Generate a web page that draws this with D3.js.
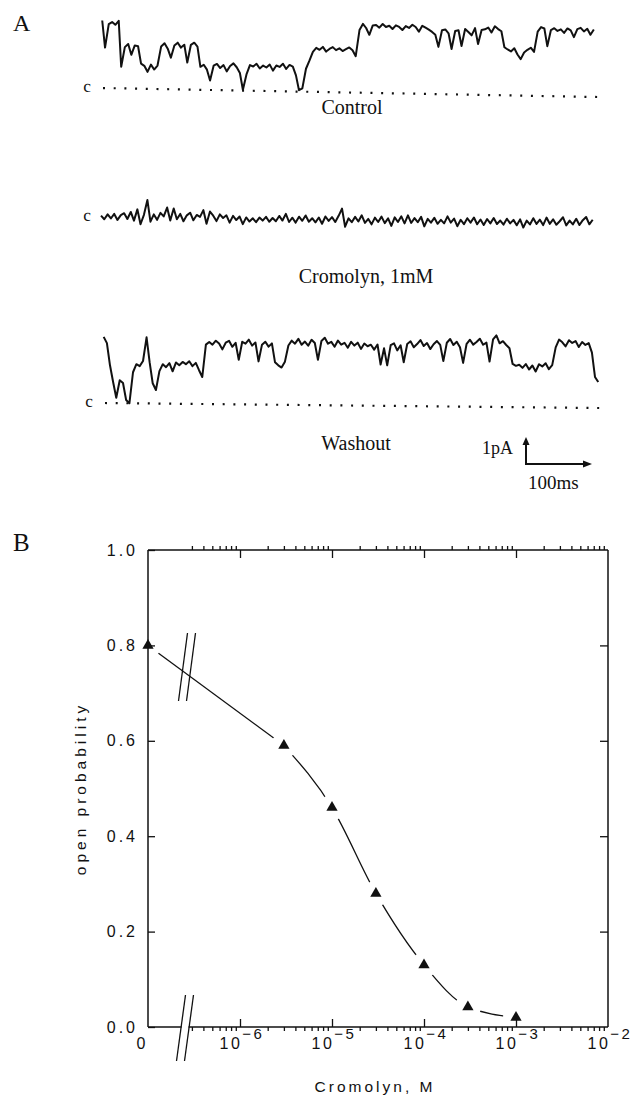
<!DOCTYPE html>
<html>
<head>
<meta charset="utf-8">
<script src="https://cdn.jsdelivr.net/npm/d3@7"></script>
<style>
body { margin: 0; background: #fff; }
svg { display: block; }
</style>
</head>
<body>
<script>
// ---- panel A: single channel records, current in pA sampled every 5 ms ----
var sampleMs = 5;
var traceMs = 750;

var controlTrace = [
    2.5, 1.5, 2.37, 2.45, 2.35, 2.5,
    0.8,
    1.53, 1.65, 1.25, 1.6, 1.57,
    0.93, 0.85, 0.63, 0.9, 0.72, 0.87,
    1.58, 1.7, 1.5, 1.17, 1.62, 1.73, 1.55, 1.66, 1.0, 1.66, 1.74, 1.6,
    0.85, 0.93, 0.75, 0.35, 0.9, 0.97, 0.82, 0.93, 0.7, 0.9, 1.0, 0.86, 0.65,
    0.03,
    0.6, 0.95, 0.9, 1.0, 0.83, 0.94, 0.87, 0.98, 0.76, 0.95, 0.9, 1.02, 0.83, 0.98, 0.92,
    0.6, 0.05, 0.12,
    0.85, 1.15,
    1.48, 1.63, 1.56, 1.67, 1.5, 1.6, 1.67, 1.56, 1.63, 1.53, 1.6, 1.67, 1.57, 1.35,
    2.32, 2.55, 2.4, 2.15, 2.5, 2.52, 2.42, 2.56, 2.45, 2.5, 2.38, 2.52, 2.46, 2.35, 2.5, 2.43, 2.55, 2.47, 2.3, 2.52, 2.45, 2.38,
    2.3, 2.2, 1.75, 2.37, 2.4, 2.26, 1.68, 2.35, 2.38, 1.8, 2.43, 2.32, 2.2, 2.47, 1.88, 2.4, 2.43, 2.5, 2.32, 2.55, 2.45, 2.37,
    1.78, 1.7, 1.63, 1.75, 1.52, 1.35, 1.6, 1.7, 1.78, 1.63,
    2.38, 2.55, 2.5, 1.85, 2.45, 2.52, 2.42, 2.48, 2.35, 2.52, 2.45, 2.2, 2.5, 2.55, 2.42, 2.52, 2.3, 2.5
];

var cromolynTrace = [
    0.05, -0.08, 0.1, -0.05, 0.12, -0.1, 0.08, 0.15, -0.06, 0.2,
    -0.12, 0.3, -0.25, 0.1, 0.65, -0.15, 0.12, -0.08, 0.18, 0.05,
    0.38, -0.1, 0.35, -0.05, 0.15, -0.12, 0.1, 0.2, -0.08, 0.12,
    0.05, 0.3, -0.2, 0.25, 0.1, -0.1, 0.15, 0.02, 0.12, -0.15,
    0.1, -0.05, 0.08, -0.2, 0.05, -0.1, 0.02, -0.12, 0.05, -0.06,
    0.08, -0.1, 0.04, -0.08, 0.12, -0.05, 0.2, -0.1, 0.06, -0.12,
    0.1, -0.05, 0.15, -0.08, 0.05, -0.1, 0.08, -0.15, 0.12, -0.04,
    0.1, -0.08, 0.15, 0.42, -0.25, 0.06, -0.08, 0.12, -0.05, 0.18,
    -0.1, 0.05, -0.15, 0.1, -0.06, 0.14, -0.1, 0.08, -0.2, 0.12,
    -0.05, 0.16, -0.1, 0.2, -0.08, 0.1, -0.05, 0.15, -0.2, 0.08,
    -0.06, 0.12, -0.1, 0.05, -0.08, 0.18, -0.05, 0.1, -0.18, 0.06,
    -0.1, 0.12, -0.04, 0.15, -0.1, 0.08, -0.12, 0.1, -0.06, 0.14,
    -0.08, 0.05, -0.1, 0.12, -0.05, 0.08, -0.12, 0.1, -0.2, 0.06,
    -0.08, 0.15, -0.06, 0.1, -0.1, 0.18, -0.05, 0.12, -0.08, 0.05,
    0.2, -0.1, 0.08, -0.06, 0.15, -0.08, 0.1, 0.22, -0.05, 0.12
];

var washoutTrace = [
    2.45, 2.22, 1.4, 0.78, 0.2, 0.85, 0.75, 0.12, 0.0, 1.15, 1.45, 1.38, 1.57, 2.45, 1.53, 0.75, 0.5,
    1.2, 1.46, 1.35, 1.5, 1.2, 1.53, 1.43, 1.55, 1.47, 1.58, 1.4, 1.52, 1.25, 1.0,
    2.2, 2.3, 2.2, 2.35, 2.25, 2.03, 2.28, 2.35, 2.13, 2.28, 1.65, 2.32, 2.25, 2.4, 2.18, 2.3, 1.6, 2.22, 2.33, 2.15, 2.27, 1.57, 1.46, 1.38, 1.6,
    2.2, 2.38, 2.27, 2.45, 2.23, 2.35, 2.2, 2.42, 2.3, 1.68,
    2.38, 2.5, 2.28, 2.35, 2.17, 2.4, 2.25, 2.32, 2.14, 2.36,
    2.22, 2.33, 2.1, 2.3, 2.2, 2.26, 2.08, 2.27, 1.53, 2.13,
    1.5, 2.25, 2.32, 2.06, 2.25, 1.62, 2.3, 2.4, 2.18, 2.3,
    2.45, 2.23, 2.34, 2.12, 2.3, 2.42, 2.28, 1.68, 2.36, 2.5,
    2.28, 2.4, 2.2, 1.62, 2.33, 2.48, 2.3, 2.4, 2.52, 2.3,
    2.38, 1.68, 2.5, 2.65, 2.36, 2.44, 2.3, 2.18,
    1.6, 1.53, 1.57, 1.46, 1.6, 1.4, 1.55, 1.33, 1.6, 1.52, 1.64, 1.42, 1.57,
    2.23, 2.52, 2.42, 2.27, 2.5, 2.4, 2.47, 2.25, 2.44, 2.33, 2.4, 2.05, 1.15, 0.96
];

var traceNames = ["Control", "Cromolyn, 1mM", "Washout"];
var scaleBarPA = 1;
var scaleBarMs = 100;

// ---- panel B: dose response ----
var doseConc = [0, 3e-6, 1e-5, 3e-5, 1e-4, 3e-4, 1e-3];
var doseOpenP = [0.8, 0.59, 0.46, 0.28, 0.13, 0.042, 0.02];
var yTicks = [0, 0.2, 0.4, 0.6, 0.8, 1.0];
var xDecades = [-6, -5, -4, -3, -2];
var minorMult = [2, 3, 4, 5, 6, 7, 8, 9];

var ink = "#111";
var serif = "'Liberation Serif', 'Times New Roman', serif";
var sans = "'Liberation Sans', Arial, sans-serif";

var svg = d3.select("body")
    .append("svg")
    .attr("width", 632)
    .attr("height", 1099);

// panel letters
svg.append("text").attr("x", 13).attr("y", 31)
    .attr("font-family", serif).attr("font-size", 24).attr("fill", ink).text("A");
svg.append("text").attr("x", 13).attr("y", 551)
    .attr("font-family", serif).attr("font-size", 25).attr("fill", ink).text("B");

// ---------------- panel A ----------------
var tScale = d3.scaleLinear().domain([0, traceMs]).range([0, 495]);
var iScale = d3.scaleLinear().domain([0, 1]).range([0, -27]);

var traceLine = d3.line()
    .x(function(d, i) { return tScale(i * sampleMs); })
    .y(function(d) { return iScale(d); })
    .curve(d3.curveLinear);

function drawTrace(values, x0, y0, tilt, dotted) {
    var g = svg.append("g")
        .attr("transform", "translate(" + x0 + "," + y0 + ") rotate(" + tilt + ")");
    if (dotted) {
        g.append("line")
            .attr("x1", 2).attr("x2", tScale(traceMs) + 2)
            .attr("y1", 0).attr("y2", 0)
            .attr("stroke", ink)
            .attr("stroke-width", 2.2)
            .attr("stroke-dasharray", "2,8.7");
    }
    g.append("path")
        .datum(values)
        .attr("d", traceLine)
        .attr("fill", "none")
        .attr("stroke", ink)
        .attr("stroke-width", 2)
        .attr("stroke-linejoin", "round");
    g.append("text")
        .attr("x", -14).attr("y", 4)
        .attr("text-anchor", "middle")
        .attr("font-family", serif)
        .attr("font-size", 17)
        .attr("fill", ink)
        .text("c");
}

drawTrace(controlTrace, 101, 88, 1.04, true);
drawTrace(cromolynTrace, 101, 217, 0.7, false);
drawTrace(washoutTrace, 103, 403, 0.58, true);

var nameAt = [[352, 114], [366, 283], [356, 450]];
traceNames.forEach(function(t, i) {
    svg.append("text")
        .attr("x", nameAt[i][0]).attr("y", nameAt[i][1])
        .attr("text-anchor", "middle")
        .attr("font-family", serif)
        .attr("font-size", 20)
        .attr("fill", ink)
        .text(t);
});

// scale bar
var sb = svg.append("g").attr("transform", "translate(526,464)");
var barH = -iScale(scaleBarPA), barW = tScale(scaleBarMs);
sb.append("path")
    .attr("d", "M0," + (-barH + 6) + "V0H" + (barW - 7))
    .attr("fill", "none").attr("stroke", ink).attr("stroke-width", 2);
sb.append("path")
    .attr("d", "M0," + (-barH) + "L-3.5," + (-barH + 8) + "L3.5," + (-barH + 8) + "Z")
    .attr("fill", ink);
sb.append("path")
    .attr("d", "M" + barW + ",0L" + (barW - 9) + ",-3.5L" + (barW - 9) + ",3.5Z")
    .attr("fill", ink);
svg.append("text").attr("x", 482).attr("y", 454)
    .attr("font-family", serif).attr("font-size", 18).attr("fill", ink).text("1pA");
svg.append("text").attr("x", 528).attr("y", 489)
    .attr("font-family", serif).attr("font-size", 19).attr("fill", ink).text("100ms");

// ---------------- panel B ----------------
var x = d3.scaleLog().domain([1e-7, 1e-2]).range([148, 608]);
var y = d3.scaleLinear().domain([0, 1]).range([1027, 550]);
var x0 = x.range()[0], x1 = x.range()[1];
var yTop = y(1), yBot = y(0);

var majorX = xDecades.map(function(p) { return Math.pow(10, p); });
var minorX = [];
[-7, -6, -5, -4, -3].forEach(function(p) {
    minorMult.forEach(function(m) {
        var v = m * Math.pow(10, p);
        if (v > 2.5e-7) minorX.push(v);
    });
});

function styleAxis(g) {
    g.select(".domain").remove();
    g.selectAll(".tick line").attr("stroke", ink).attr("stroke-width", 1.3);
    g.selectAll(".tick text")
        .attr("fill", ink)
        .attr("font-family", sans)
        .attr("font-size", 16)
        .attr("letter-spacing", 3);
}

// top axis
svg.append("g").attr("transform", "translate(0," + yTop + ")")
    .call(d3.axisTop(x).tickValues(minorX).tickSize(4).tickFormat(""))
    .call(styleAxis);
svg.append("g").attr("transform", "translate(0," + yTop + ")")
    .call(d3.axisTop(x).tickValues(majorX.slice(0, 4)).tickSize(-8).tickFormat(""))
    .call(styleAxis);

// bottom axis
svg.append("g").attr("transform", "translate(0," + yBot + ")")
    .call(d3.axisBottom(x).tickValues(minorX).tickSize(4).tickFormat(""))
    .call(styleAxis);
svg.append("g").attr("transform", "translate(0," + yBot + ")")
    .call(d3.axisBottom(x).tickValues(majorX.slice(0, 4)).tickSize(-8).tickFormat(""))
    .call(styleAxis);

// left + right axes
svg.append("g").attr("transform", "translate(" + x0 + ",0)")
    .call(d3.axisLeft(y).tickValues(yTicks).tickSize(-7).tickPadding(10).tickFormat(d3.format(".1f")))
    .call(styleAxis);
svg.append("g").attr("transform", "translate(" + x1 + ",0)")
    .call(d3.axisRight(y).tickValues(yTicks.slice(1, 5)).tickSize(-8).tickFormat(""))
    .call(styleAxis);

// frame, bottom line broken
var breakX = 185;
var frame = [
    [x0, yTop, x1, yTop],
    [x0, yTop, x0, yBot],
    [x1, yTop, x1, yBot],
    [x0, yBot, breakX - 3.5, yBot],
    [breakX + 3.5, yBot, x1, yBot]
];
svg.append("g").selectAll("line").data(frame).enter().append("line")
    .attr("x1", function(d) { return d[0]; })
    .attr("y1", function(d) { return d[1]; })
    .attr("x2", function(d) { return d[2]; })
    .attr("y2", function(d) { return d[3]; })
    .attr("stroke", ink).attr("stroke-width", 1.5);

// break marks on axis and on curve
function breakMark(cx, cy, half) {
    var g = svg.append("g");
    [-4, 4].forEach(function(off) {
        g.append("line")
            .attr("x1", cx + off - 4.5).attr("y1", cy + half)
            .attr("x2", cx + off + 4.5).attr("y2", cy - half)
            .attr("stroke", ink).attr("stroke-width", 1.3);
    });
}
breakMark(breakX, 1028, 33);
breakMark(187, 667, 34);

// x tick labels
svg.append("text").attr("x", 141).attr("y", 1049)
    .attr("text-anchor", "middle").attr("font-family", sans).attr("font-size", 16)
    .attr("fill", ink).text("0");
var xl = svg.append("g").selectAll("text").data(xDecades).enter().append("text")
    .attr("x", function(d) { return x(Math.pow(10, d)) + 2; })
    .attr("y", 1049)
    .attr("text-anchor", "middle")
    .attr("font-family", sans)
    .attr("font-size", 16)
    .attr("letter-spacing", 2.5)
    .attr("fill", ink);
xl.append("tspan").text("10");
xl.append("tspan").attr("dy", -10).attr("font-size", 15).text(function(d) { return "\u2212" + Math.abs(d); });

// axis titles
svg.append("text")
    .attr("transform", "translate(86," + ((yTop + yBot) / 2) + ") rotate(-90)")
    .attr("text-anchor", "middle")
    .attr("font-family", sans).attr("font-size", 15.5)
    .attr("letter-spacing", 4)
    .attr("fill", ink)
    .text("open probability");
svg.append("text")
    .attr("x", 375).attr("y", 1092)
    .attr("text-anchor", "middle")
    .attr("font-family", sans).attr("font-size", 15.5)
    .attr("letter-spacing", 3)
    .attr("fill", ink)
    .text("Cromolyn, M");

// data points and fitted line (straight across the break, smooth on the log part)
var pts = doseConc.map(function(c, i) {
    return [c === 0 ? x0 : x(c), y(doseOpenP[i])];
});

var mask = svg.append("defs").append("mask")
    .attr("id", "gapMask")
    .attr("maskUnits", "userSpaceOnUse")
    .attr("x", 0).attr("y", 0).attr("width", 632).attr("height", 1099);
mask.append("rect").attr("width", 632).attr("height", 1099).attr("fill", "white");
mask.selectAll("circle").data(pts).enter().append("circle")
    .attr("cx", function(d) { return d[0]; })
    .attr("cy", function(d) { return d[1]; })
    .attr("r", 13)
    .attr("fill", "black");

var fit = svg.append("g").attr("mask", "url(#gapMask)");
fit.append("path")
    .datum(pts.slice(0, 2))
    .attr("d", d3.line())
    .attr("fill", "none")
    .attr("stroke", ink)
    .attr("stroke-width", 1.3);
fit.append("path")
    .datum(pts.slice(1))
    .attr("d", d3.line().curve(d3.curveMonotoneX))
    .attr("fill", "none")
    .attr("stroke", ink)
    .attr("stroke-width", 1.3);

svg.append("g").selectAll("path").data(pts).enter().append("path")
    .attr("d", d3.symbol(d3.symbolTriangle, 55)())
    .attr("transform", function(d) { return "translate(" + d[0] + "," + d[1] + ")"; })
    .attr("fill", ink);
</script>
</body>
</html>
